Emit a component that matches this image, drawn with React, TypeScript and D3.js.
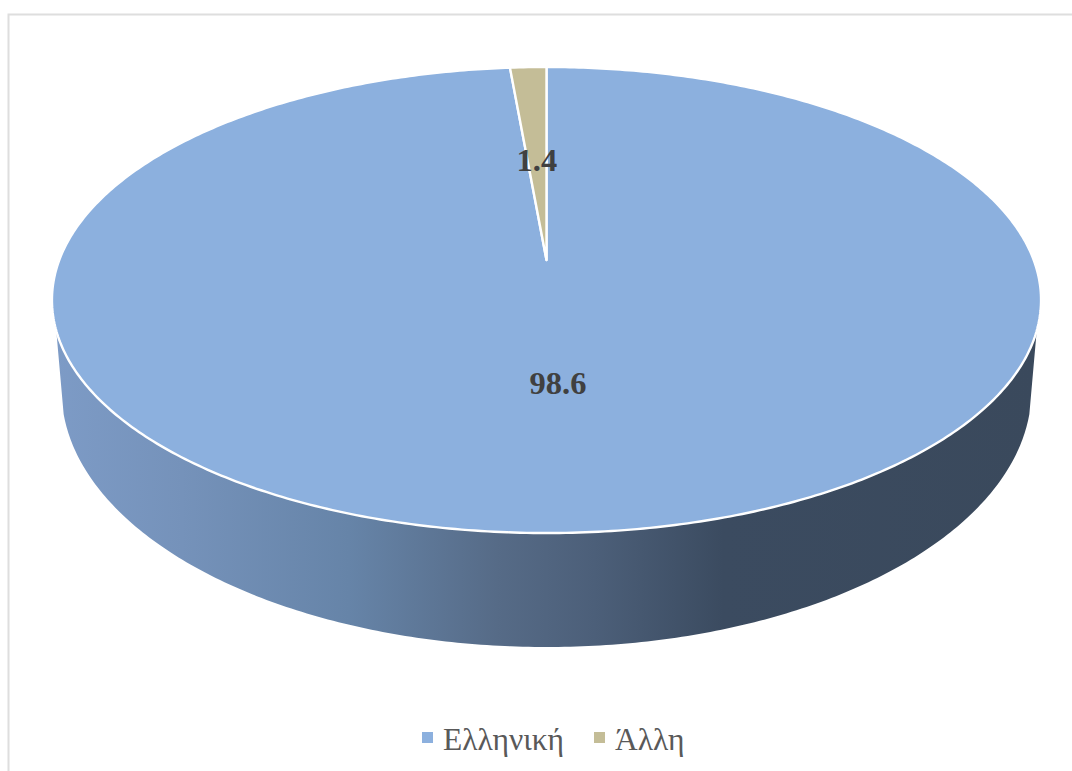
import React from "react";
import * as d3 from "d3";

const categories = ["Ελληνική", "Άλλη"];
const shares = [98.6, 1.4];
const sliceColors = ["#8cb0de", "#c4bd97"];

const WIDTH = 1072;
const HEIGHT = 771;

// Projective tilt of the unit disc: the centre of the disc sits above the
// centre of the drawn ellipse because the near edge is closer to the viewer.
const discX = 546.5;
const discScaleX = 487.2;
const discY = 260;
const discScaleY = 181.5;
const tilt = -0.1717;

type Pt = [number, number];

function project(angle: number, r: number): Pt {
  const u = r * Math.sin(angle);
  const v = -r * Math.cos(angle);
  const w = 1 + tilt * v;
  return [discX + (discScaleX * u) / w, (discScaleY * v + discY) / w];
}

const line = d3.line<Pt>().curve(d3.curveLinear);

function sector(a0: number, a1: number): string {
  const steps = Math.max(4, Math.ceil((a1 - a0) * 90));
  const rim = d3.range(steps + 1).map((i) => project(a0 + ((a1 - a0) * i) / steps, 1));
  return line([project(0, 0), ...rim])! + "Z";
}

// Wall under the disc: front part of the rim, then the lower, narrower rim.
function wall(): string {
  const lowerY = d3.scaleLinear().domain([-1, 1]).range([390 - 257, 390 + 257]);
  const lowerX = d3.scaleLinear().domain([-1, 1]).range([546.5 - 485, 546.5 + 485]);
  const rimFirst = Math.PI * 0.596;
  const rimLast = Math.PI * 1.404;
  const top = d3.range(241).map((i) => project(rimFirst + ((rimLast - rimFirst) * i) / 240, 1));
  const lower = d3.range(241).map((i): Pt => {
    const t = Math.PI * 0.03 + (Math.PI * 0.94 * i) / 240;
    return [lowerX(-Math.cos(t)), lowerY(Math.sin(t))];
  });
  return line([...top, ...lower])! + "Z";
}

export default function App() {
  const pie = d3.pie<number>().sort(null).startAngle(0).endAngle(2 * Math.PI);
  const slices = pie(shares);

  const legendItems = [
    { sx: 422, tx: 443 },
    { sx: 594, tx: 615 },
  ];

  return (
    <svg
      width={WIDTH}
      height={HEIGHT}
      viewBox={`0 0 ${WIDTH} ${HEIGHT}`}
      style={{ position: "absolute", left: 0, top: 0, background: "#fff" }}
    >
      <defs>
        <linearGradient id="wallShade" gradientUnits="userSpaceOnUse" x1={54} x2={1038} y1={0} y2={0}>
          <stop offset="0" stopColor="#7d9bc6" />
          <stop offset="0.13" stopColor="#7592ba" />
          <stop offset="0.3" stopColor="#6684a8" />
          <stop offset="0.45" stopColor="#566b87" />
          <stop offset="0.55" stopColor="#4c5f79" />
          <stop offset="0.68" stopColor="#3b4b60" />
          <stop offset="1" stopColor="#3a495c" />
        </linearGradient>
      </defs>

      <path d={`M8.5,771V14.5H${WIDTH}`} fill="none" stroke="#dedede" strokeWidth={2} />

      <path d={wall()} fill="url(#wallShade)" />

      {slices.map((s, i) => (
        <path
          key={categories[i]}
          d={sector(s.startAngle, s.endAngle)}
          fill={sliceColors[i]}
          stroke="#fff"
          strokeWidth={2.4}
          strokeLinejoin="round"
        />
      ))}

      {slices.map((s, i) => {
        const [x, y] = project((s.startAngle + s.endAngle) / 2, 0.49);
        return (
          <text
            key={categories[i]}
            x={x}
            y={y + 13}
            textAnchor="middle"
            fontFamily="'Liberation Serif', serif"
            fontWeight="bold"
            fontSize={32.5}
            fill="#404040"
          >
            {shares[i]}
          </text>
        );
      })}

      {categories.map((c, i) => (
        <g key={c}>
          <rect x={legendItems[i].sx} y={732} width={11} height={11} fill={sliceColors[i]} />
          <text
            x={legendItems[i].tx}
            y={750}
            fontFamily="'Liberation Serif', serif"
            fontSize={31.5}
            fill="#595959"
          >
            {c}
          </text>
        </g>
      ))}
    </svg>
  );
}
